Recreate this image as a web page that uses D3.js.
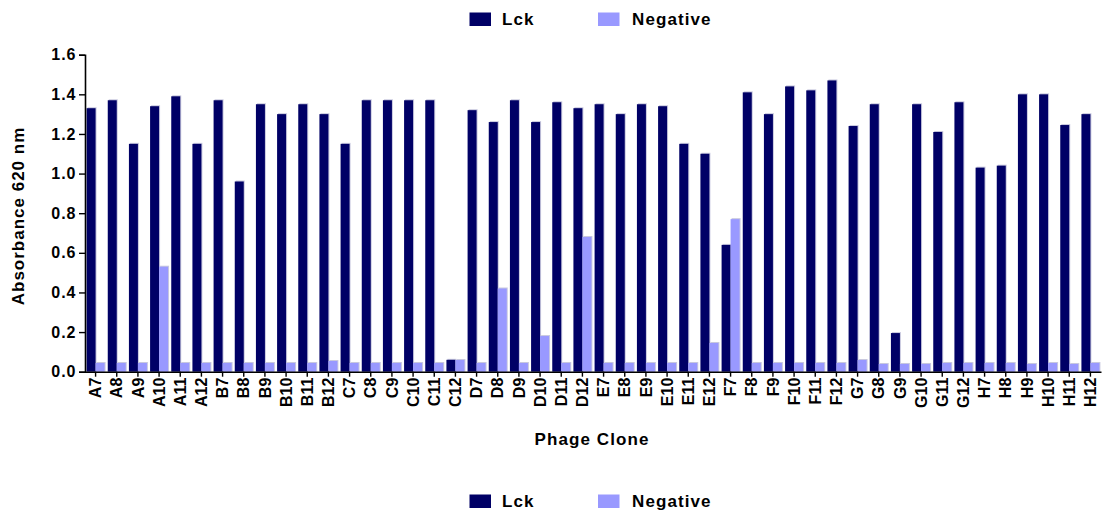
<!DOCTYPE html>
<html>
<head>
<meta charset="utf-8">
<script src="https://cdn.jsdelivr.net/npm/d3@7"></script>
<style>
  html, body { margin: 0; padding: 0; background: #fff; }
  svg { display: block; font-family: "Liberation Sans", Arial, sans-serif; font-weight: bold; }
</style>
</head>
<body>
<svg id="chart" width="1107" height="519"></svg>
<script>
// Phage clones screened by ELISA
const clones = [
  "A7","A8","A9","A10","A11","A12","B7","B8","B9","B10","B11","B12",
  "C7","C8","C9","C10","C11","C12","D7","D8","D9","D10","D11","D12",
  "E7","E8","E9","E10","E11","E12","F7","F8","F9","F10","F11","F12",
  "G7","G8","G9","G10","G11","G12","H7","H8","H9","H10","H11","H12"
];
// Absorbance at 620 nm against Lck
const lck = [
  1.33, 1.37, 1.15, 1.34, 1.39, 1.15, 1.37, 0.96, 1.35, 1.30, 1.35, 1.30,
  1.15, 1.37, 1.37, 1.37, 1.37, 0.06, 1.32, 1.26, 1.37, 1.26, 1.36, 1.33,
  1.35, 1.30, 1.35, 1.34, 1.15, 1.10, 0.64, 1.41, 1.30, 1.44, 1.42, 1.47,
  1.24, 1.35, 0.195, 1.35, 1.21, 1.36, 1.03, 1.04, 1.40, 1.40, 1.245, 1.30
];
// Absorbance at 620 nm on the negative control
const negative = [
  0.044, 0.044, 0.044, 0.53, 0.044, 0.044, 0.044, 0.044, 0.044, 0.044, 0.044, 0.054,
  0.044, 0.044, 0.044, 0.044, 0.044, 0.059, 0.044, 0.42, 0.044, 0.18, 0.044, 0.68,
  0.044, 0.044, 0.044, 0.044, 0.044, 0.145, 0.77, 0.044, 0.044, 0.044, 0.044, 0.044,
  0.059, 0.039, 0.039, 0.039, 0.044, 0.044, 0.044, 0.044, 0.039, 0.044, 0.039, 0.044
];
const seriesNames = ["Lck", "Negative"];
const seriesColors = ["#000066", "#9999ff"];
const yTicks = [0, 0.2, 0.4, 0.6, 0.8, 1.0, 1.2, 1.4, 1.6];

const svg = d3.select("#chart");
const plotLeft = 85, plotRight = 1101, plotTop = 54.7, plotBottom = 371.7;
const FONT = "Liberation Sans, Arial, sans-serif";

const x0 = d3.scaleBand().domain(clones).range([plotLeft, plotRight])
  .paddingInner(0.15).paddingOuter(0.075);
const x1 = d3.scaleBand().domain(seriesNames).range([0, x0.bandwidth()]).padding(0);
const y = d3.scaleLinear().domain([0, 1.6]).range([plotBottom, plotTop]);

const rows = clones.map((c, i) => ({ clone: c, values: [lck[i], negative[i]] }));

const groups = svg.append("g").selectAll("g").data(rows).join("g")
  .attr("transform", d => `translate(${x0(d.clone)},0)`);

// faint edge on the right side of each bar
groups.selectAll("rect.edge").data(d => d.values.map((v, k) => ({ v, k })))
  .join("rect").attr("class", "edge")
  .attr("x", d => x1(seriesNames[d.k]) + 1)
  .attr("y", d => y(d.v) - 1)
  .attr("width", x1.bandwidth())
  .attr("height", d => y(0) - y(d.v) + 1)
  .attr("fill", "#c9c9df");

groups.selectAll("rect.bar").data(d => d.values.map((v, k) => ({ v, k })))
  .join("rect").attr("class", "bar")
  .attr("x", d => x1(seriesNames[d.k]))
  .attr("y", d => y(d.v))
  .attr("width", x1.bandwidth())
  .attr("height", d => y(0) - y(d.v))
  .attr("fill", d => seriesColors[d.k]);

// Y axis
const yAxis = svg.append("g").attr("transform", `translate(${plotLeft},0)`)
  .call(d3.axisLeft(y).tickValues(yTicks).tickFormat(d3.format(".1f")).tickSize(6).tickPadding(2.5));
yAxis.select(".domain").attr("stroke", "#000").attr("stroke-width", 1.6);
yAxis.selectAll(".tick line").attr("stroke", "#000").attr("stroke-width", 1.4);
yAxis.selectAll("text").attr("font-size", 16).attr("font-weight", "bold").attr("fill", "#000")
  .attr("font-family", FONT).attr("letter-spacing", 1);

// X axis
const xAxis = svg.append("g").attr("transform", `translate(0,${plotBottom})`)
  .call(d3.axisBottom(x0).tickSize(5).tickSizeOuter(0));
xAxis.select(".domain").attr("stroke", "#000").attr("stroke-width", 1.6);
xAxis.selectAll(".tick line").attr("stroke", "#000").attr("stroke-width", 1.4);
xAxis.selectAll("text")
  .attr("font-size", 16).attr("font-weight", "bold").attr("fill", "#000")
  .attr("font-family", FONT)
  .attr("transform", "rotate(-90)")
  .attr("text-anchor", "end")
  .attr("x", -6).attr("y", 0).attr("dy", "0.35em");

// Axis titles
svg.append("text")
  .attr("transform", `translate(24,216) rotate(-90)`)
  .attr("text-anchor", "middle")
  .attr("font-size", 17).attr("letter-spacing", 1).attr("fill", "#000")
  .text("Absorbance 620 nm");

svg.append("text")
  .attr("x", 592).attr("y", 445)
  .attr("text-anchor", "middle")
  .attr("font-size", 17).attr("letter-spacing", 1.1).attr("fill", "#000")
  .text("Phage Clone");

// Legends above and below the plot
function legend(yCenter) {
  const g = svg.append("g");
  const items = [{ x: 469.5, tx: 502 }, { x: 598, tx: 632 }];
  seriesNames.forEach((name, k) => {
    g.append("rect").attr("x", items[k].x).attr("y", yCenter - 6.5)
      .attr("width", 21.5).attr("height", 13.5).attr("fill", seriesColors[k]);
    g.append("text").attr("x", items[k].tx).attr("y", yCenter).attr("dy", "0.36em")
      .attr("font-size", 17).attr("letter-spacing", 1.1).attr("fill", "#000").text(name);
  });
}
legend(19);
legend(501);
</script>
</body>
</html>
